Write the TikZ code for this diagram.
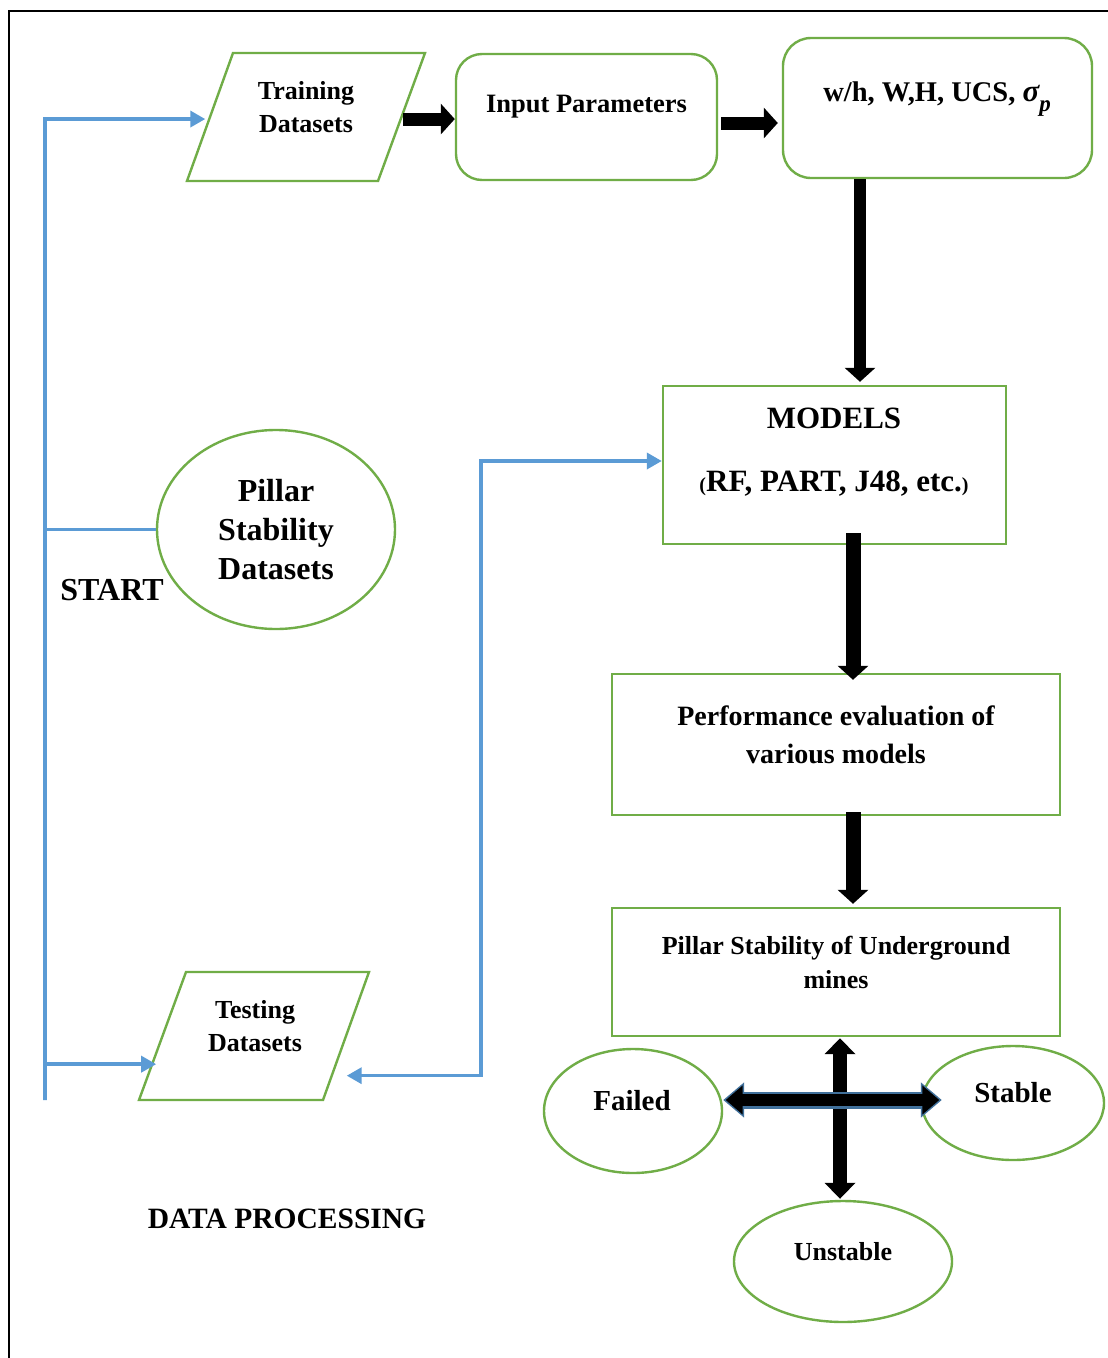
\documentclass[tikz,border=0pt]{standalone}
\usepackage{fontspec}
\setmainfont{Liberation Serif}
\usetikzlibrary{arrows.meta,shapes.geometric,calc}
\definecolor{boxgreen}{HTML}{70AD47}
\definecolor{flowblue}{HTML}{5B9BD5}
\definecolor{edgeblue}{HTML}{41719C}
\newcommand\fsz[2]{\fontsize{#1}{#2}\selectfont}

\begin{document}
\begin{tikzpicture}[x=1pt,y=-1pt,
  greenline/.style={draw=boxgreen, line width=2.4pt},
  roundbox/.style={greenline, rounded corners=26pt, inner sep=0pt},
  plainbox/.style={greenline, inner sep=0pt},
  oval/.style={greenline, ellipse, inner sep=0pt},
  flow/.style={draw=flowblue, line width=3.6pt},
  flowtip/.style={-{Triangle[length=15pt,width=16pt]}},
  flowtips/.style={{Triangle[length=15pt,width=16pt]}-{Triangle[length=15pt,width=16pt]}},
  fatarrow/.style={draw=black, line width=13pt, -{Triangle[length=14pt,width=30pt]}},
  fatboth/.style={draw=black, line width=14pt,
    {Triangle[length=16pt,width=30pt]}-{Triangle[length=16pt,width=30pt]}},
]
% page and frame
\useasboundingbox (0,0) rectangle (1108,1358);
\fill[white] (0,0) rectangle (1108,1358);
\draw[line width=2pt] (9,1358) -- (9,11) -- (1108,11);

% training data (parallelogram)
\coordinate (trainBL) at (187,181);
\coordinate (trainTL) at (233,53);
\coordinate (trainTR) at (425,53);
\coordinate (trainBR) at (378,181);
\draw[greenline, line join=miter] (trainBL) -- (trainTL) -- (trainTR) -- (trainBR) -- cycle;
\node[align=center, inner sep=0pt, font=\bfseries\fsz{26}{33}] (train) at (306,107) {Training\\Datasets};

\node[oval, minimum width=238pt, minimum height=199pt, align=center, font=\bfseries\fsz{32}{39}] (pillar) at (276,529.5)
  {Pillar\\Stability\\Datasets};

% testing data (parallelogram)
\coordinate (testBL) at (139,1100);
\coordinate (testTL) at (186,972);
\coordinate (testTR) at (369,972);
\coordinate (testBR) at (323,1100);
\draw[greenline, line join=miter] (testBL) -- (testTL) -- (testTR) -- (testBR) -- cycle;
\node[align=center, inner sep=0pt, font=\bfseries\fsz{26}{33}] (test) at (255,1026) {Testing\\Datasets};

\node[inner sep=0pt, font=\bfseries\fsz{32}{36}] (start) at (112,590) {START};
\node[inner sep=0pt, font=\bfseries\fsz{29.5}{34}] (dproc) at (287,1219) {DATA PROCESSING};

% model side
\node[roundbox, minimum width=261pt, minimum height=126pt] (input) at (586.5,117) {};
\node[inner sep=0pt, font=\bfseries\fsz{26.5}{32}] (inputT) at (586.5,107) {Input Parameters};

\node[roundbox, rounded corners=28pt, minimum width=309pt, minimum height=140pt] (params) at (937.5,108) {};
\node[inner sep=0pt, font=\bfseries\fsz{28.5}{32}] (paramsT) at (937,99)
  {w/h, W,H, UCS, {\itshape\fsz{31}{32}σ\raisebox{-0.3em}{\fsz{23}{26}p}}};

\node[plainbox, minimum width=343pt, minimum height=158pt] (models) at (834.5,465) {};
\node[align=center, inner sep=0pt, font=\bfseries\fsz{31}{63}] (modelsT) at (834,452.5)
  {MODELS\\{\fsz{20}{20}(}RF, PART, J48, etc.{\fsz{20}{20})}};

\node[plainbox, minimum width=448pt, minimum height=141pt] (perf) at (836,744.5) {};
\node[align=center, inner sep=0pt, font=\bfseries\fsz{28}{38}] (perfT) at (836,735)
  {Performance evaluation of\\various models};

\node[plainbox, minimum width=448pt, minimum height=128pt] (stab) at (836,972) {};
\node[align=center, inner sep=0pt, font=\bfseries\fsz{26}{34}] (stabT) at (836,962)
  {Pillar Stability of Underground\\mines};

\node[oval, minimum width=178pt, minimum height=124pt] (failed) at (633,1111) {};
\node[inner sep=0pt, font=\bfseries\fsz{29}{34}] (failedT) at (632,1101) {Failed};
\node[oval, minimum width=182pt, minimum height=114pt] (stable) at (1013,1103) {};
\node[inner sep=0pt, font=\bfseries\fsz{29}{34}] (stableT) at (1013,1093) {Stable};
\node[oval, minimum width=218pt, minimum height=121pt] (unstable) at (843,1261.5) {};
\node[inner sep=0pt, font=\bfseries\fsz{26}{32}] (unstableT) at (843,1252) {Unstable};

% blue data-processing connectors
\coordinate (trunkTop) at (45,119);
\coordinate (trunkBot) at (45,1100);
\coordinate (trainIn) at ($(trainBL)!0.484!(trainTL)+(-4,0)$);
\draw[flow, flowtip] (trunkBot) -- (trunkTop) -- (trainIn);
\draw[flow] (pillar.west -| trunkTop) -- (pillar.west);
\coordinate (testIn) at ($(testBL)!0.28!(testTL)+(4,0)$);
\draw[flow, flowtip] (testIn -| trunkTop) -- (testIn);
\coordinate (testOut) at ($(testBR)!0.19!(testTR)+(15,0)$);
\coordinate (bendx) at (481,0);
\coordinate (modIn) at ($(models.west)+(0,-4)$);
\draw[flow, flowtips] (testOut) -- (testOut -| bendx) -- (bendx |- modIn) -- (modIn);

% black flow arrows
\coordinate (trainOut) at ($(trainBR)!0.484!(trainTR)+(2,0)$);
\draw[fatarrow] (trainOut) -- (trainOut -| input.west);
\draw[fatarrow] ($(input.east)+(3,6)$) -- ($(params.west)+(-4,15)$);
\draw[fatarrow, line width=12pt] ($(params.south)+(-77.5,0)$) -- ($(models.north)+(25.5,-3)$);
\draw[fatarrow, line width=15pt] ($(models.south)+(18.5,-12)$) -- ($(perf.north)+(17,7)$);
\draw[fatarrow, line width=15pt] ($(perf.south)+(17,-4)$) -- ($(stab.north)+(17,-3)$);

% outcome arrows
\draw[fatboth] ($(stab.south)+(4,1)$) -- ($(unstable.north)+(-3,-1)$);
\draw[draw=edgeblue, line width=17pt,
  {Triangle[length=21pt,width=34pt]}-{Triangle[length=21pt,width=34pt]}]
  ($(failed.east)+(0,-11)$) -- ($(stable.west)+(21,-3)$);
\draw[draw=black, line width=12pt, shorten <=2.5pt, shorten >=2.5pt,
  {Triangle[length=17pt,width=28pt]}-{Triangle[length=17pt,width=28pt]}]
  ($(failed.east)+(0,-11)$) -- ($(stable.west)+(21,-3)$);
\end{tikzpicture}
\end{document}
